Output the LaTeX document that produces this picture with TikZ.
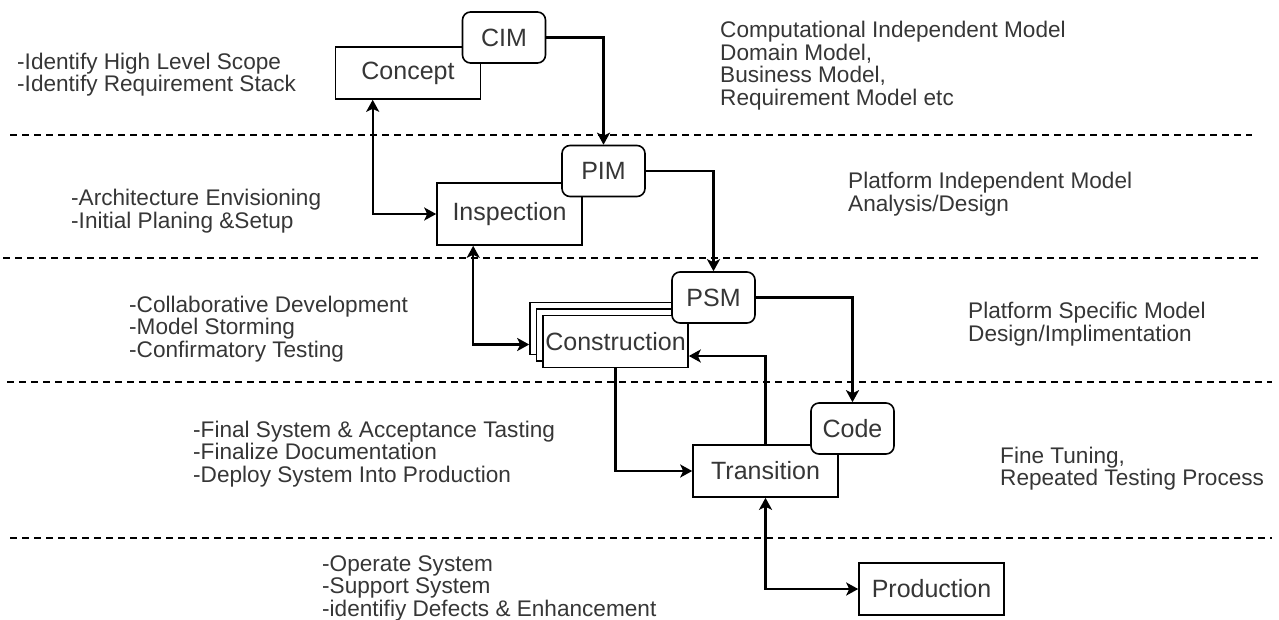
\documentclass[tikz,border=0pt]{standalone}
\usepackage{fontspec}
\setmainfont{Liberation Sans}
\usetikzlibrary{arrows.meta}
\definecolor{txtgray}{HTML}{363636}
\tikzset{
  >={Stealth[length=12pt,width=13pt,inset=3pt]},
  stage/.style={draw,fill=white,line width=1.6pt,minimum width=145pt,minimum height=52pt,inner sep=0pt,font=\fontsize{25}{28}\selectfont,text=txtgray},
  model/.style={stage,rounded corners=8pt,minimum width=83pt,minimum height=51pt},
  note/.style={anchor=west,align=left,inner sep=0pt,yshift=-2.5pt,font=\fontsize{22.6}{22.5}\selectfont,text=txtgray},
  link/.style={draw=black,line width=2.2pt},
  lane/.style={draw,line width=1.3pt,dash pattern=on 7pt off 5pt},
}
\begin{document}
\begin{tikzpicture}[x=1pt,y=-1pt]
 \useasboundingbox (0,0) rectangle (1279,619);
 \draw[lane] (10,135) -- (1252,135);
 \draw[lane] (3,258) -- (1258,258);
 \draw[lane] (7,382) -- (1272,382);
 \draw[lane] (10,538) -- (1272,538);

 \node[stage] (concept) at (408,73) {Concept};
 \node[model] (cim) at (504,37.5) {CIM};
 \node[stage,minimum height=62pt] (inspection) at (509.5,214) {Inspection};
 \node[model] (pim) at (603.5,171) {PIM};
 \node[stage] (cons3) at (602.5,328.5) {};
 \node[stage] (cons2) at (609,335) {};
 \node[stage] (construction) at (615.5,341.5) {Construction};
 \node[model] (psm) at (713.5,297.5) {PSM};
 \node[stage] (transition) at (765.5,471) {Transition};
 \node[model] (code) at (852.5,428.5) {Code};
 \node[stage] (production) at (931.5,589) {Production};

 \draw[link,->] (cim.east) -| (pim.north);
 \draw[link,<->] ([xshift=38pt]concept.south west) |- (inspection.west);
 \draw[link,->] (pim.east) -| (psm.north);
 \draw[link,<->] ([xshift=37pt]inspection.south west) |- ([yshift=-3pt]cons3.west |- construction.west);
 \draw[link,->] (psm.east) -| (code.north);
 \draw[link,->] (construction.south) |- (transition.west);
 \draw[link,->] (transition.north) |- ([yshift=-14.5pt]construction.east);
 \draw[link,<->] (transition.south) |- (production.west);

 \node[note] (scopenote) at (17,72) {-Identify High Level Scope\\-Identify Requirement Stack};
 \node[note] (archnote) at (71,208.5) {-Architecture Envisioning\\-Initial Planing \&Setup};
 \node[note] (collabnote) at (129,326.5) {-Collaborative Development\\-Model Storming\\-Confirmatory Testing};
 \node[note] (finalnote) at (193,451.5) {-Final System \& Acceptance Tasting\\-Finalize Documentation\\-Deploy System Into Production};
 \node[note] (operatenote) at (322,585.5) {-Operate System\\-Support System\\-identifiy Defects \& Enhancement};
 \node[note] (cimnote) at (720,63) {Computational Independent Model\\Domain Model,\\Business Model,\\Requirement Model etc};
 \node[note] (pimnote) at (848,191.5) {Platform Independent Model\\Analysis/Design};
 \node[note] (psmnote) at (968,321.5) {Platform Specific Model\\Design/Implimentation};
 \node[note] (codenote) at (1000,466) {Fine Tuning,\\Repeated Testing Process};
\end{tikzpicture}
\end{document}
